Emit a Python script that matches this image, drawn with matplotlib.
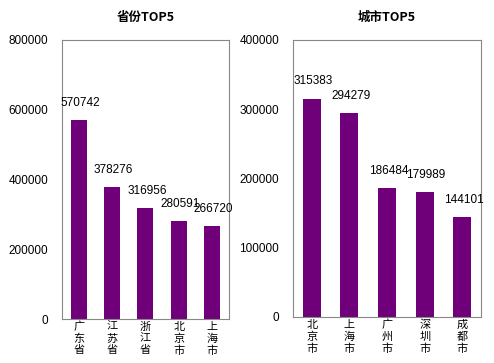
import matplotlib.pyplot as plt

plt.rcParams['font.family'] = ['Noto Sans CJK SC', 'DejaVu Sans']

provinces = ['广东省', '江苏省', '浙江省', '北京市', '上海市']
province_vals = [570742, 378276, 316956, 280591, 266720]
cities = ['北京市', '上海市', '广州市', '深圳市', '成都市']
city_vals = [315383, 294279, 186484, 179989, 144101]

bar_color = '#70007a'

fig = plt.figure(figsize=(4.94, 3.63), dpi=100)
ax1 = fig.add_axes([0.1255, 0.121, 0.338, 0.769])
ax2 = fig.add_axes([0.593, 0.127, 0.381, 0.763])


def draw(ax, names, vals, ymax, step, title):
    x = range(len(names))
    ax.bar(x, vals, width=0.48, color=bar_color)
    for i, v in zip(x, vals):
        ax.annotate(str(v), (i, v), xytext=(1, 8), textcoords='offset points',
                    ha='center', va='bottom', fontsize=8.5, family='Liberation Sans')
    ax.set_xlim(-0.5, len(names) - 0.5)
    ax.set_ylim(0, ymax)
    ax.set_yticks(range(0, ymax + 1, step))
    ax.set_yticklabels([str(t) for t in range(0, ymax + 1, step)],
                       fontsize=8.5, family='Liberation Sans')
    ax.set_xticks([])
    # vertical category labels, one character per row
    for i, name in zip(x, names):
        for k, ch in enumerate(name):
            ax.annotate(ch, (i, 0), xycoords=('data', 'axes fraction'),
                        xytext=(0, -2 - k * 8.5), textcoords='offset points',
                        ha='center', va='top', fontsize=8, annotation_clip=False)
    ax.tick_params(length=0, axis='y', pad=10)
    for s in ax.spines.values():
        s.set_color('#888888')
    ax.set_title(title, fontsize=9, fontweight='bold', pad=14)


draw(ax1, provinces, province_vals, 800000, 200000, '省份TOP5')
draw(ax2, cities, city_vals, 400000, 100000, '城市TOP5')

fig.savefig('out.png', dpi=100)
